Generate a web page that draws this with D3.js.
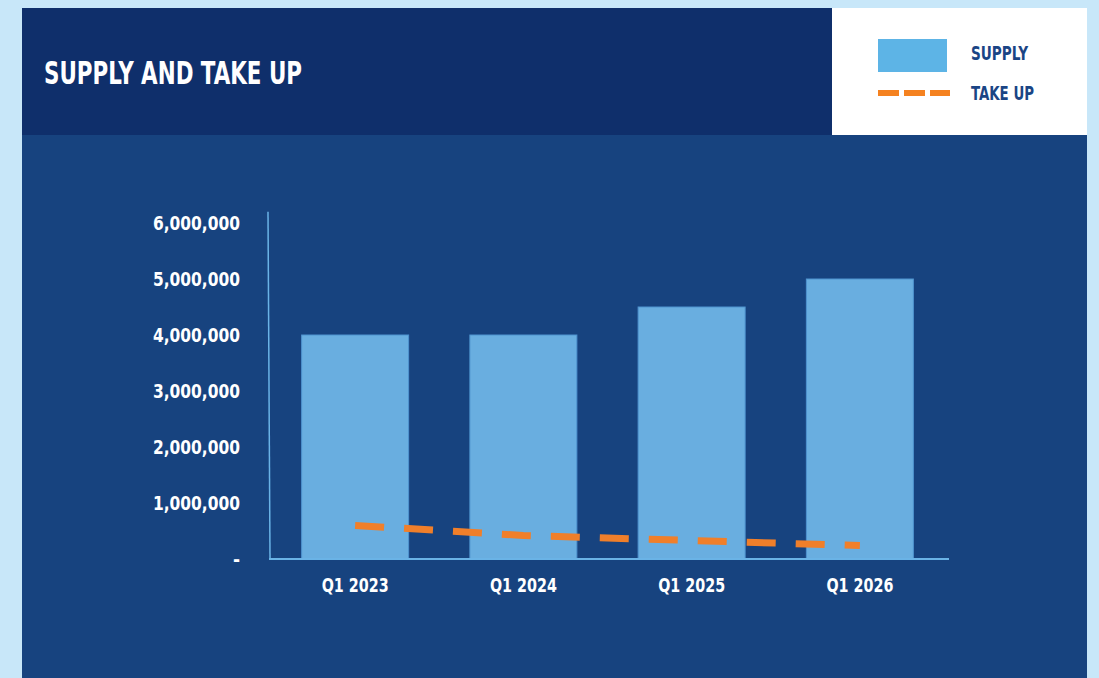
<!DOCTYPE html>
<html>
<head>
<meta charset="utf-8">
<script src="https://cdn.jsdelivr.net/npm/d3@7"></script>
<style>
  body { margin: 0; background: #c8e7f9; }
  svg { display: block; }
  text { font-family: 'Liberation Sans Narrow', 'DejaVu Sans Condensed', sans-serif; font-weight: bold; }
</style>
</head>
<body>
<svg id="chart"></svg>
<script>
const quarters = ["Q1 2023", "Q1 2024", "Q1 2025", "Q1 2026"];
const supply = [4000000, 4000000, 4500000, 5000000];
const takeUp = [600000, 420000, 330000, 240000];
const yTicks = [0, 1000000, 2000000, 3000000, 4000000, 5000000, 6000000];

const width = 1099;
const height = 678;

const svg = d3.select("#chart")
  .attr("width", width)
  .attr("height", height);

// panel + header
svg.append("rect").attr("x", 22).attr("y", 8).attr("width", 1065).attr("height", 670).attr("fill", "#17437f");
svg.append("rect").attr("x", 22).attr("y", 8).attr("width", 810).attr("height", 127).attr("fill", "#0f2f6b");
svg.append("rect").attr("x", 832).attr("y", 8).attr("width", 255).attr("height", 127).attr("fill", "#ffffff");

svg.append("text")
  .attr("x", 44)
  .attr("y", 84)
  .attr("fill", "#ffffff")
  .attr("textLength", 258)
  .attr("lengthAdjust", "spacingAndGlyphs")
  .style("font-size", "32px")
  .text("SUPPLY AND TAKE UP");

// legend
const legend = svg.append("g");
legend.append("rect").attr("x", 878).attr("y", 39).attr("width", 69).attr("height", 33).attr("fill", "#5db4e6");
legend.append("line")
  .attr("x1", 878).attr("x2", 950).attr("y1", 93).attr("y2", 93)
  .attr("stroke", "#f58220").attr("stroke-width", 6)
  .attr("stroke-dasharray", "21,5");
legend.append("text").attr("x", 971).attr("y", 60).attr("fill", "#1a4585")
  .attr("textLength", 57).attr("lengthAdjust", "spacingAndGlyphs")
  .style("font-size", "20px").text("SUPPLY");
legend.append("text").attr("x", 971).attr("y", 100).attr("fill", "#1a4585")
  .attr("textLength", 63).attr("lengthAdjust", "spacingAndGlyphs")
  .style("font-size", "20px").text("TAKE UP");

// scales
const x = d3.scaleBand()
  .domain(quarters)
  .range([271, 944])
  .paddingInner(0.364)
  .paddingOuter(0.182);

const y = d3.scaleLinear()
  .domain([0, 6000000])
  .range([559, 223]);

// bars
svg.selectAll(".bar")
  .data(supply)
  .enter()
  .append("rect")
  .attr("class", "bar")
  .attr("x", (d, i) => x(quarters[i]))
  .attr("y", d => y(d))
  .attr("width", x.bandwidth())
  .attr("height", d => y(0) - y(d))
  .attr("fill", "#69aee0")
  .attr("stroke", "#4f93cf")
  .attr("stroke-width", 1);

// axes lines
svg.append("line")
  .attr("x1", 268).attr("x2", 270)
  .attr("y1", y(6200000)).attr("y2", y(0))
  .attr("stroke", "#6ab3e6").attr("stroke-width", 1.5);
svg.append("line")
  .attr("x1", 269).attr("x2", 949)
  .attr("y1", y(0)).attr("y2", y(0))
  .attr("stroke", "#6ab3e6").attr("stroke-width", 2);

// take up line
const line = d3.line()
  .x((d, i) => x(quarters[i]) + x.bandwidth() / 2)
  .y(d => y(d));

svg.append("path")
  .datum(takeUp)
  .attr("d", line)
  .attr("fill", "none")
  .attr("stroke", "#f07f2a")
  .attr("stroke-width", 7)
  .attr("stroke-dasharray", "29,20");

// y axis labels
const yAxis = d3.axisLeft(y)
  .tickValues(yTicks)
  .tickSize(0)
  .tickPadding(0)
  .tickFormat(d => d === 0 ? "-" : d3.format(",")(d));

const yg = svg.append("g")
  .attr("transform", "translate(240,0)")
  .call(yAxis);
yg.select(".domain").remove();
yg.selectAll("text")
  .attr("fill", "#ffffff")
  .attr("textLength", d => d === 0 ? null : 87)
  .attr("lengthAdjust", "spacingAndGlyphs")
  .style("font-size", "19px")
  .style("font-family", null);

// x axis labels
const xAxis = d3.axisBottom(x).tickSize(0).tickPadding(0);
const xg = svg.append("g")
  .attr("transform", "translate(0,578)")
  .call(xAxis);
xg.select(".domain").remove();
xg.selectAll("text")
  .attr("fill", "#ffffff")
  .attr("textLength", 67)
  .attr("lengthAdjust", "spacingAndGlyphs")
  .style("font-size", "19px")
  .style("font-family", null);
</script>
</body>
</html>
